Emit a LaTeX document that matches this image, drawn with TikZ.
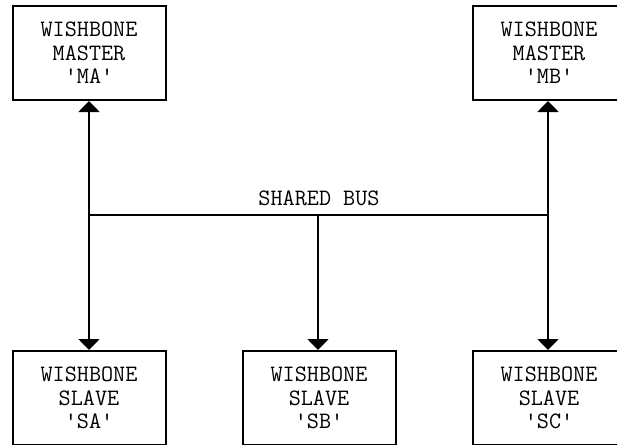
\documentclass[tikz,border=0pt]{standalone}
\usetikzlibrary{arrows.meta}
\begin{document}
\begin{tikzpicture}[x=1pt,y=-1pt,
  box/.style={draw, line width=2pt, minimum width=153pt, minimum height=94pt, inner sep=0pt, align=center, font=\ttfamily\fontsize{23.5}{23.5}\selectfont},
  lab/.style={font=\ttfamily\fontsize{23.5}{23.5}\selectfont, inner sep=0pt},
  link/.style={line width=1.8pt},
  tipA/.style={-{Triangle[length=11pt,width=21pt]}},
  tipAB/.style={{Triangle[length=11pt,width=21pt]}-{Triangle[length=11pt,width=21pt]}}]
\useasboundingbox (0,0) rectangle (617,444);
\clip (0,0) rectangle (617,444);
\node[box] (MA) at (89,53) {WISHBONE\\MASTER\\\textquotesingle MA\textquotesingle};
\node[box] (MB) at (549,53) {WISHBONE\\MASTER\\\textquotesingle MB\textquotesingle};
\node[box] (SA) at (89,398) {WISHBONE\\SLAVE\\\textquotesingle SA\textquotesingle};
\node[box] (SB) at (319,398) {WISHBONE\\SLAVE\\\textquotesingle SB\textquotesingle};
\node[box] (SC) at (549,398) {WISHBONE\\SLAVE\\\textquotesingle SC\textquotesingle};
\coordinate (bl) at (89,215);
\coordinate (br) at (548,215);
\coordinate (bm) at (318,215);
\node[lab, anchor=base] (bus) at (319,205) {SHARED BUS};
\draw[link] (bl) -- (br);
\draw[link, tipAB] (MA.south) -- (SA.north);
\draw[link, tipAB] (MB.south -| br) -- (SC.north -| br);
\draw[link, tipA] (bm) -- (SB.north -| bm);
\end{tikzpicture}
\end{document}
